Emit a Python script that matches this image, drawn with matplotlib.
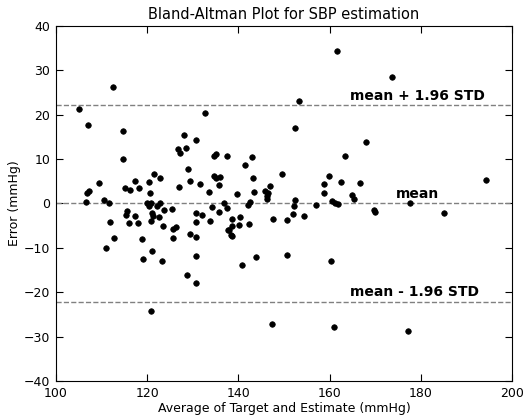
import matplotlib
matplotlib.use("Agg")
from matplotlib import pyplot as plt
import numpy as np

# average of target and estimate (mmHg)
avg = [112.6, 105.1, 107.0, 114.6, 114.8, 132.7, 128.0, 130.6, 126.7, 127.1,
       128.5, 134.6, 135.2, 137.6, 142.9, 141.5, 128.9, 134.6, 135.0, 135.9,
       135.8, 121.5, 122.9, 109.4, 117.3, 120.3, 129.3, 131.6, 115.1, 116.3,
       118.1, 120.6, 127.0, 133.5, 106.7, 107.3, 110.5, 111.7, 106.5, 119.9,
       120.3, 120.8, 122.8, 122.2, 125.5, 123.6, 115.6, 115.3, 117.3, 121.0,
       121.2, 122.5, 111.8, 116.0, 118.0, 120.8, 123.4, 125.6, 126.4, 125.7,
       112.7, 118.8, 110.9, 121.1, 119.1, 123.3, 120.8, 128.8, 130.8, 130.8,
       129.3, 130.6, 130.8, 130.8, 132.1, 133.8, 134.2, 139.7, 143.1, 142.6,
       136.8, 137.5, 135.8, 142.2, 138.6, 140.4, 138.6, 138.0, 137.7, 140.2,
       142.3, 138.4, 138.6, 140.9, 143.8, 150.7, 160.3, 147.4, 160.9, 143.5,
       145.8, 146.2, 146.6, 146.9, 146.3, 149.5, 147.6, 150.6, 154.4, 152.0,
       152.2, 152.4, 157.1, 158.8, 158.7, 159.8, 160.6, 161.2, 161.9, 165.0,
       165.4, 162.5, 163.4, 166.6, 168.0, 161.7, 153.4, 152.4, 173.7, 194.3,
       169.7, 169.9, 185.0, 177.2, 177.7]
# error (mmHg)
err = [26.3, 21.3, 17.6, 16.4, 10.1, 20.3, 15.5, 14.3, 12.2, 11.4,
       12.6, 10.6, 11.2, 10.6, 10.4, 8.6, 7.7, 6.3, 5.7, 5.9,
       4.1, 6.7, 5.8, 4.7, 5.0, 4.9, 5.0, 4.4, 3.4, 3.1,
       3.4, 2.4, 3.7, 2.7, 2.3, 2.9, 0.7, 0.2, 0.4, 0.1,
       -0.5, 0.1, 0.2, -0.6, -1.3, -1.5, -1.8, -2.7, -2.9, -2.2,
       -2.9, -3.0, -4.1, -4.3, -4.4, -4.0, -5.1, -5.7, -5.3, -7.8,
       -7.7, -7.9, -10.1, -10.7, -12.6, -12.9, -24.2, -16.0, -17.9, -11.9,
       -6.8, -7.6, -2.1, -4.1, -2.5, -4.0, -0.7, 2.2, 5.7, 0.4,
       0.2, -1.1, -2.0, -0.3, -3.6, -3.0, -5.1, -5.9, -6.0, -4.8,
       -4.7, -7.0, -7.4, -13.9, -12.1, -11.7, -12.9, -27.2, -27.9, 2.7,
       2.9, 1.7, 2.4, 3.9, 1.1, 6.7, -3.6, -3.8, -2.9, -2.3,
       -0.5, 0.7, -0.4, 2.3, 4.3, 6.1, 0.5, 0.0, -0.2, 1.9,
       1.1, 4.8, 10.8, 4.6, 13.9, 34.4, 23.0, 17.0, 28.4, 5.3,
       -1.4, -1.9, -2.2, -28.7, 0.2]

mean_err = 0.0
limit = 22.1  # 1.96 * std

fig = plt.figure(figsize=(5.23, 4.17), dpi=100)
ax = fig.add_axes([0.107, 0.086, 0.872, 0.852])

ax.scatter(avg, err, s=16, c="black", edgecolors="black", linewidths=0.5,
           zorder=3)
ax.axhline(mean_err, color="gray", linestyle="--", linewidth=1)
ax.axhline(mean_err + limit, color="gray", linestyle="--", linewidth=1)
ax.axhline(mean_err - limit, color="gray", linestyle="--", linewidth=1)

ax.text(164.5, mean_err + limit + 0.6, "mean + 1.96 STD", fontsize=10,
        fontweight="bold", ha="left", va="bottom")
ax.text(174.6, mean_err + 0.6, "mean", fontsize=10,
        fontweight="bold", ha="left", va="bottom")
ax.text(164.5, mean_err - limit + 0.6, "mean - 1.96 STD", fontsize=10,
        fontweight="bold", ha="left", va="bottom")

ax.set_xlim(100, 200)
ax.set_ylim(-40, 40)
ax.set_xticks(np.arange(100, 201, 20))
ax.set_yticks(np.arange(-40, 41, 10))
ax.tick_params(direction="in", top=True, right=True, labelsize=9, length=5,
               pad=4)
ax.set_title("Bland-Altman Plot for SBP estimation", fontsize=10.5, pad=5)
ax.set_xlabel("Average of Target and Estimate (mmHg)", fontsize=9, labelpad=2)
ax.set_ylabel("Error (mmHg)", fontsize=9, labelpad=2)

fig.savefig("out.png", dpi=100)
